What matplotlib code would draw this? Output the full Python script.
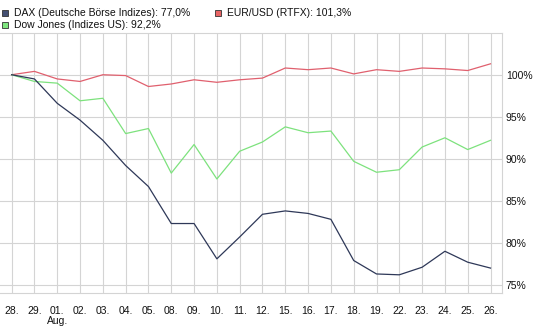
import matplotlib
matplotlib.use("Agg")
import matplotlib.pyplot as plt
from matplotlib.patches import Rectangle

dates = ["28.", "29.", "01.\nAug.", "02.", "03.", "04.", "05.", "08.", "09.", "10.", "11.",
         "12.", "15.", "16.", "17.", "18.", "19.", "22.", "23.", "24.", "25.", "26."]
dax = [100, 99.5, 96.6, 94.6, 92.2, 89.2, 86.7, 82.3, 82.3, 78.1, 80.7,
       83.4, 83.8, 83.5, 82.8, 77.9, 76.3, 76.2, 77.1, 79.0, 77.7, 77.0]
dow = [100, 99.2, 99.0, 96.9, 97.2, 93.0, 93.6, 88.3, 91.7, 87.6, 90.9,
       92.0, 93.8, 93.1, 93.3, 89.7, 88.4, 88.7, 91.4, 92.5, 91.1, 92.2]
eur = [100, 100.4, 99.5, 99.2, 100.0, 99.9, 98.6, 98.9, 99.4, 99.1, 99.4,
       99.6, 100.8, 100.6, 100.8, 100.1, 100.6, 100.4, 100.8, 100.7, 100.5, 101.3]
yticks = [75, 80, 85, 90, 95, 100]
ytick_labels = ["75%", "80%", "85%", "90%", "95%", "100%"]
legend_labels = ["DAX (Deutsche Börse Indizes): 77,0%",
                 "EUR/USD (RTFX): 101,3%",
                 "Dow Jones (Indizes US): 92,2%"]

plt.rcParams['font.family'] = ['Liberation Sans', 'DejaVu Sans']

W, H = 533, 327
fig = plt.figure(figsize=(W / 100, H / 100), dpi=100)
fig.patch.set_facecolor("white")

ax = fig.add_axes([0 / W, (H - 293.3) / H, 501.7 / W, (293.3 - 32.7) / H])
x = list(range(len(dates)))

c_dax, c_dow, c_eur = "#2e3858", "#7de27d", "#e0606e"
ax.plot(x, eur, color=c_eur, lw=0.9, zorder=3)
ax.plot(x, dow, color=c_dow, lw=0.9, zorder=3)
ax.plot(x, dax, color=c_dax, lw=0.9, zorder=3)

ax.set_xlim(-0.51, 21.49)
ax.set_ylim(74.0, 105.0)
ax.set_xticks(x)
ax.set_xticklabels(dates, fontsize=7.5, color="#111111", linespacing=1.0)
ax.set_yticks(yticks)
ax.set_yticklabels(ytick_labels, fontsize=7.5, color="#111111")
ax.yaxis.tick_right()
ax.tick_params(axis="x", length=0, pad=9)
ax.tick_params(axis="y", length=0, pad=3)
for lbl in ax.get_xticklabels():
    lbl.set_verticalalignment("top")
ax.grid(True, color="#d4d4d4", lw=0.8, zorder=0)
for s in ["left"]:
    ax.spines[s].set_visible(False)
for s in ["top", "right", "bottom"]:
    ax.spines[s].set_color("#d4d4d4")
    ax.spines[s].set_linewidth(0.8)

def legend_item(px, py, color, text):
    fig.patches.append(Rectangle((px / W, (H - py - 6) / H), 6 / W, 6 / H,
                                 transform=fig.transFigure, facecolor=color,
                                 edgecolor="#333333", lw=0.6))
    fig.text((px + 12) / W, (H - py - 3) / H, text, fontsize=7.5,
             va="center", ha="left", color="#111111")

legend_item(1.5, 9.5, "#434f72", legend_labels[0])
legend_item(215, 9.5, "#e86464", legend_labels[1])
legend_item(1.5, 21.8, "#7fe67f", legend_labels[2])

fig.savefig("out.png", dpi=100)
